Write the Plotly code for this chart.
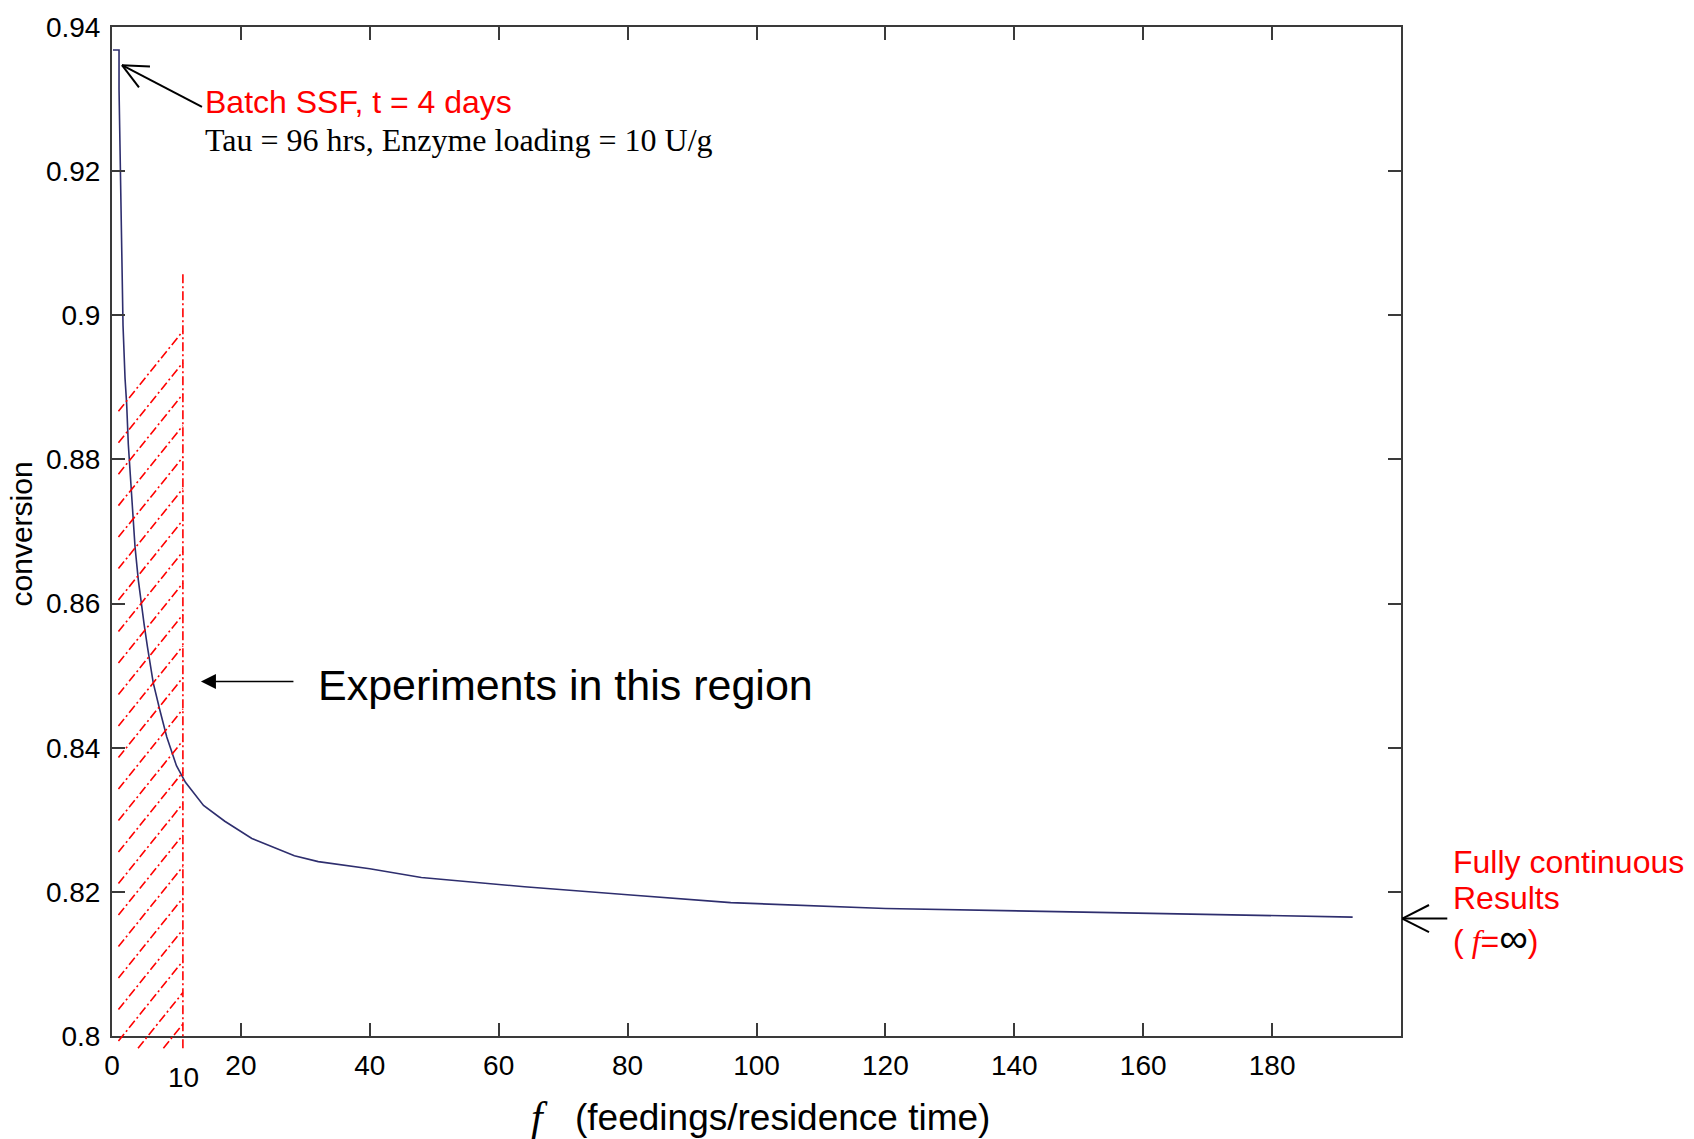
import math
import plotly.graph_objects as go

# ---------------- data ----------------
feedings = [0.15, 1.09, 1.09, 1.29, 1.5, 1.71, 2.02, 2.28, 2.53, 2.79, 3.15, 3.57, 4.08, 4.45,
            5.0, 5.5, 6.4, 7.4, 8.5, 10.0, 11.4, 14.2, 17.5, 21.7, 28.3, 32, 40, 48, 64, 80,
            96, 120, 144, 174, 186, 192.5]
conversion = [0.9368, 0.9368, 0.9314, 0.9207, 0.9096, 0.8986, 0.8913, 0.8876, 0.8821, 0.8784,
              0.8724, 0.8679, 0.8633, 0.8605, 0.857, 0.854, 0.849, 0.8453, 0.8415, 0.8375,
              0.8352, 0.8320, 0.8298, 0.8274, 0.8250, 0.8242, 0.8232, 0.8220, 0.8207, 0.8196,
              0.8185, 0.8177, 0.8173, 0.8169, 0.8167, 0.8165]
x_ticks = [0, 20, 40, 60, 80, 100, 120, 140, 160, 180]
y_ticks = [0.8, 0.82, 0.84, 0.86, 0.88, 0.9, 0.92, 0.94]
y_ticktext = ["0.8", "0.82", "0.84", "0.86", "0.88", "0.9", "0.92", "0.94"]

X_RANGE = [0, 200]
Y_RANGE = [0.8, 0.94]

# experiment region (hand-drawn annotation)
REGION_LEFT = 1.0
REGION_RIGHT = 11.0
REGION_TOP_LINE = 0.9058
REGION_BOTTOM = 0.7983
HATCH_TOP = 0.8978
HATCH_STEP = 0.00437
HATCH_RISE = 0.0111

W, H = 1694, 1139
ML, MR, MT, MB = 112, 293, 20, 103
PW, PH = W - ML - MR, H - MT - MB


def xp(f):
    return (f - X_RANGE[0]) / (X_RANGE[1] - X_RANGE[0])


def yp(v):
    return (v - Y_RANGE[0]) / (Y_RANGE[1] - Y_RANGE[0])


RED = "#ff0000"
AXC = "#3a3a3a"
SANS = "Liberation Sans, Arial, Helvetica, sans-serif"
SERIF = "Liberation Serif, Times New Roman, serif"

fig = go.Figure()
fig.add_trace(go.Scatter(x=feedings, y=conversion, mode="lines",
                         line=dict(color="#2e2e6e", width=1.6), showlegend=False,
                         hoverinfo="skip"))

shapes = []
dd = "9px,3px,2px,3px"
shapes.append(dict(type="line", xref="paper", yref="paper",
                   x0=xp(REGION_RIGHT), x1=xp(REGION_RIGHT),
                   y0=yp(REGION_BOTTOM), y1=yp(REGION_TOP_LINE),
                   line=dict(color=RED, width=1.6, dash=dd)))
i = 0
while True:
    yr = HATCH_TOP - i * HATCH_STEP
    if yr <= REGION_BOTTOM:
        break
    yl = yr - HATCH_RISE
    xl = REGION_LEFT
    if yl < REGION_BOTTOM:
        xl = REGION_LEFT + (REGION_BOTTOM - yl) / HATCH_RISE * (REGION_RIGHT - REGION_LEFT)
        yl = REGION_BOTTOM
    shapes.append(dict(type="line", xref="paper", yref="paper",
                       x0=xp(xl), x1=xp(REGION_RIGHT), y0=yp(yl), y1=yp(yr),
                       line=dict(color=RED, width=1.6, dash=dd)))
    i += 1


def open_arrow(tip_f, tip_v, dx, dy, head_len, half_angle, width):
    """Line arrow with open chevron head; (dx, dy) = tail offset in screen px."""
    tx, ty = xp(tip_f), yp(tip_v)
    out = [dict(type="line", xref="paper", yref="paper",
                x0=tx, y0=ty, x1=tx + dx / PW, y1=ty - dy / PH,
                line=dict(color="black", width=width))]
    n = math.hypot(dx, dy)
    ux, uy = dx / n, dy / n
    for s in (1, -1):
        a = math.radians(half_angle) * s
        rx = ux * math.cos(a) - uy * math.sin(a)
        ry = ux * math.sin(a) + uy * math.cos(a)
        out.append(dict(type="line", xref="paper", yref="paper",
                        x0=tx, y0=ty, x1=tx + rx * head_len / PW, y1=ty - ry * head_len / PH,
                        line=dict(color="black", width=width)))
    return out


shapes += open_arrow(1.55, 0.9347, 80, 42, 28, 25, 2)
shapes += open_arrow(200.2, 0.8163, 45, 0, 30, 27, 2)

ann = []
ann.append(dict(x=xp(14.1), y=yp(0.9296), xref="paper", yref="paper",
                text="Batch SSF, t = 4 days", showarrow=False, xanchor="left", yanchor="middle",
                font=dict(family=SANS, size=32, color=RED)))
ann.append(dict(x=xp(14.1), y=yp(0.9243), xref="paper", yref="paper",
                text="Tau = 96 hrs, Enzyme loading = 10 U/g", showarrow=False,
                xanchor="left", yanchor="middle",
                font=dict(family=SERIF, size=32, color="black")))
# Experiments arrow
ann.append(dict(x=13.8, y=0.8492, xref="x", yref="y", text="", showarrow=True,
                ax=94, ay=0, arrowhead=2, arrowsize=2, arrowwidth=1.5, arrowcolor="black"))
ann.append(dict(x=xp(31.6), y=yp(0.8487), xref="paper", yref="paper",
                text="Experiments in this region", showarrow=False,
                xanchor="left", yanchor="middle",
                font=dict(family=SANS, size=43, color="black")))
for txt, v in [("Fully continuous", 0.8242), ("Results", 0.8191)]:
    ann.append(dict(x=xp(207.8), y=yp(v), xref="paper", yref="paper", text=txt,
                    showarrow=False, xanchor="left", yanchor="middle",
                    font=dict(family=SANS, size=32, color=RED)))
ann.append(dict(x=xp(207.8), y=yp(0.8136), xref="paper", yref="paper",
                text="(<span style='font-family:Liberation Serif'><i> f</i></span>="
                     "<span style='color:black;font-size:40px'>∞</span>)",
                showarrow=False, xanchor="left", yanchor="middle",
                font=dict(family=SANS, size=32, color=RED)))
# "10" label under region line
ann.append(dict(x=xp(11.1), y=yp(0.7942), xref="paper", yref="paper", text="10",
                showarrow=False, xanchor="center", yanchor="middle",
                font=dict(family=SANS, size=28, color="black")))
# x-axis title
ann.append(dict(x=xp(66.4), y=yp(0.7887), xref="paper", yref="paper", text="<i>f</i>",
                showarrow=False, xanchor="center", yanchor="middle",
                font=dict(family=SERIF, size=42, color="black")))
ann.append(dict(x=xp(71.5), y=yp(0.7887), xref="paper", yref="paper",
                text="(feedings/residence time)", showarrow=False,
                xanchor="left", yanchor="middle",
                font=dict(family=SANS, size=37, color="black")))
# y-axis title
ann.append(dict(x=xp(-14.0), y=yp(0.8697), xref="paper", yref="paper", text="conversion",
                showarrow=False, textangle=-90, xanchor="center", yanchor="middle",
                font=dict(family=SANS, size=30, color="black")))

axis_common = dict(showline=True, linecolor=AXC, linewidth=2, mirror="ticks",
                   ticks="inside", ticklen=13, tickwidth=1.5, tickcolor=AXC,
                   showgrid=False, zeroline=False,
                   tickfont=dict(family=SANS, size=28, color="black"))

fig.update_layout(
    width=W, height=H,
    margin=dict(l=ML, r=MR, t=MT, b=MB),
    paper_bgcolor="white", plot_bgcolor="white",
    xaxis=dict(range=X_RANGE, tickvals=x_ticks, ticklabelstandoff=3, **axis_common),
    yaxis=dict(range=Y_RANGE, tickvals=y_ticks, ticktext=y_ticktext,
               ticklabelstandoff=4, **axis_common),
    shapes=shapes, annotations=ann, showlegend=False,
)

fig.write_html("out.html", config={"displayModeBar": False},
               post_script="document.body.style.margin='0';document.body.style.padding='0';")
